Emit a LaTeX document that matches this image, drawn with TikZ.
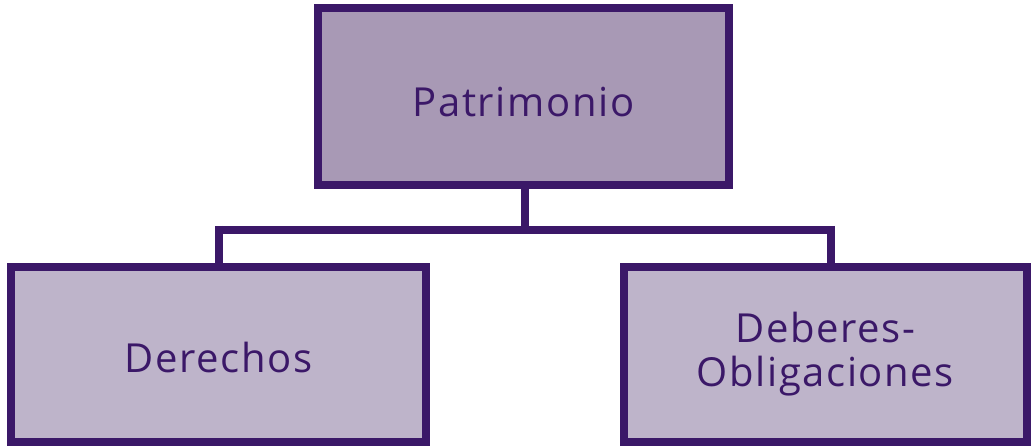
\documentclass[tikz,border=0pt]{standalone}
\usepackage{fontspec}
\setmainfont{Open Sans}[LetterSpace=4]
\definecolor{edge}{HTML}{3B1868}
\definecolor{topfill}{HTML}{A899B5}
\definecolor{botfill}{HTML}{BEB4CA}
\begin{document}
\begin{tikzpicture}[x=1pt,y=-1pt,
  box/.style={draw=edge,line width=8pt,text=edge,align=center,
    font=\fontsize{40}{44}\selectfont,inner sep=0pt,minimum width=411pt,minimum height=177pt},
  conn/.style={draw=edge,line width=8pt}]
\useasboundingbox (0,0) rectangle (1031,446);
\node[box,fill=topfill,text height=40pt,text depth=0pt] (top) at (523.5,96.5) {Patrimonio};
\node[box,fill=botfill,minimum width=415pt,minimum height=175pt,text height=35pt,text depth=0pt] (left) at (218.5,354.5) {Derechos};
\node[box,fill=botfill,minimum width=403pt,minimum height=175pt] (right) at (825.5,354.5) {Deberes-\\Obligaciones};
\coordinate (mid) at (525,230);
\draw[conn] (top.south -| mid) -- (mid);
\draw[conn] (218.7,230) -- (831,230);
\draw[conn] (218.7,226) -- (218.7,267);
\draw[conn] (831,226) -- (831,267);
\end{tikzpicture}
\end{document}
